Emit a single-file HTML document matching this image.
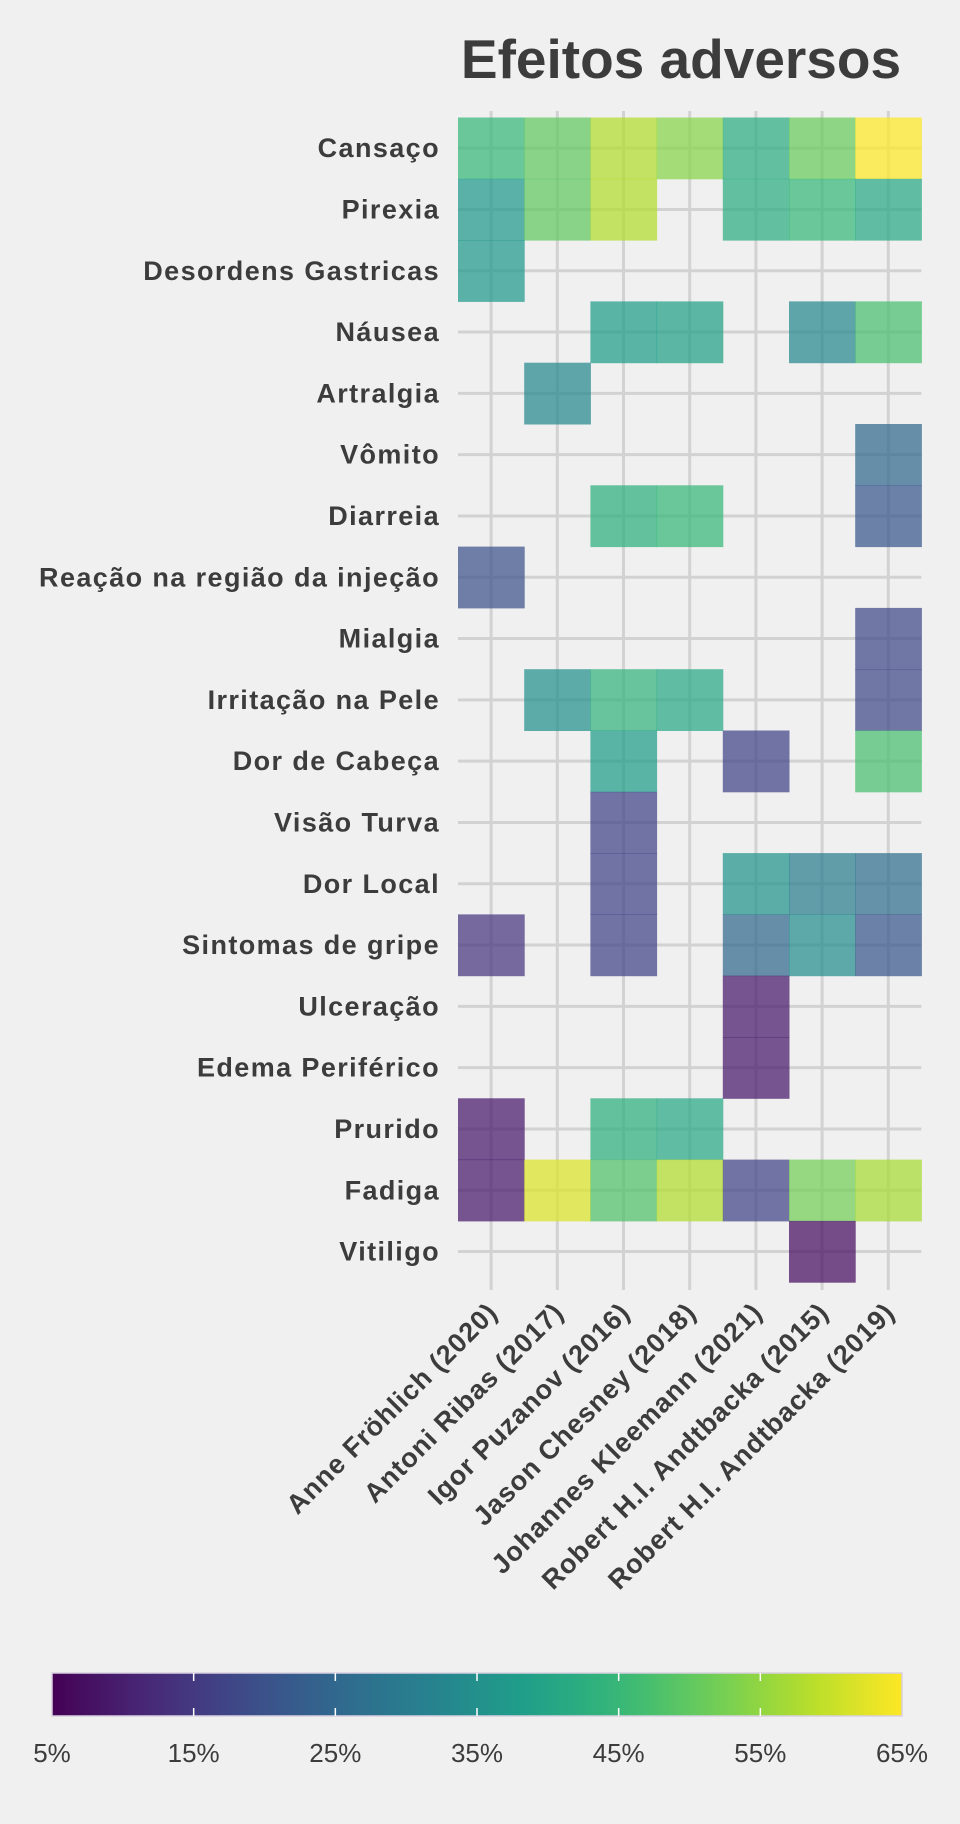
<!DOCTYPE html>
<html><head><meta charset="utf-8"><style>
html,body{margin:0;padding:0;background:#f0f0f0;}
svg{display:block;font-family:"Liberation Sans",sans-serif;}
</style></head><body>
<svg id="chart" width="960" height="1824" viewBox="0 0 960 1824" xmlns="http://www.w3.org/2000/svg">
<rect width="960" height="1824" fill="#f0f0f0"/>
<text x="681" y="78" text-anchor="middle" font-size="55" font-weight="bold" fill="#3c3c3c">Efeitos adversos</text>
<g id="grid"></g>
<g id="cells"></g>
<g id="ylabels"></g>
<g id="xlabels"></g>
<g id="colorbar"></g>
</svg>
<script>
const rows = ["Cansaço","Pirexia","Desordens Gastricas","Náusea","Artralgia","Vômito","Diarreia","Reação na região da injeção","Mialgia","Irritação na Pele","Dor de Cabeça","Visão Turva","Dor Local","Sintomas de gripe","Ulceração","Edema Periférico","Prurido","Fadiga","Vitiligo"];
const cols = ["Anne Fröhlich (2020)","Antoni Ribas (2017)","Igor Puzanov (2016)","Jason Chesney (2018)","Johannes Kleemann (2021)","Robert H.I. Andtbacka (2015)","Robert H.I. Andtbacka (2019)"];
const values = [
 [45,50,58,54,42,51,65],
 [37,50,58,null,42,45,41],
 [37,null,null,null,null,null,null],
 [null,null,38,39,null,33,47],
 [null,33,null,null,null,null,null],
 [null,null,null,null,null,null,25],
 [null,null,43,45,null,null,21],
 [20,null,null,null,null,null,null],
 [null,null,null,null,null,null,18],
 [null,35,44,41,null,null,18],
 [null,null,38,null,17,null,47],
 [null,null,17,null,null,null,null],
 [null,null,17,null,36,30,26],
 [14,null,17,null,25,34,21],
 [null,null,null,null,9,null,null],
 [null,null,null,null,9,null,null],
 [9,null,43,41,null,null,null],
 [9,62,48,58,17,52,57],
 [null,null,null,null,null,7,null]
];
const colorTicks = [5,15,25,35,45,55,65];
const tickLabels = ["5%","15%","25%","35%","45%","55%","65%"];

const NS="http://www.w3.org/2000/svg";
const X0=458, CW=66.2, Y0=117.5, RH=61.3;
const vmin=5, vmax=65;
const xPos=i=>X0+i*CW;
const yPos=j=>Y0+j*RH;
const vir=[[68,1,84],[72,40,120],[62,74,137],[49,104,142],[38,130,142],[31,158,137],[53,183,121],[110,206,88],[181,222,43],[253,231,37]];
function viridis(v){let t=Math.max(0,Math.min(1,(v-vmin)/(vmax-vmin)))*(vir.length-1);let i=Math.min(Math.floor(t),vir.length-2),f=t-i;const c=vir[i].map((a,k)=>Math.round(a+(vir[i+1][k]-a)*f));return `rgb(${c.join(',')})`;}
function mk(tag,attrs,parent){const e=document.createElementNS(NS,tag);for(const k in attrs)e.setAttribute(k,attrs[k]);parent.appendChild(e);return e;}

const grid=document.getElementById('grid');
cols.forEach((c,i)=>{const l=mk('line',{x1:xPos(i)+CW/2,x2:xPos(i)+CW/2,y1:111,y2:1290,stroke:'#d2d2d2','stroke-width':3},grid);

});
rows.forEach((r,j)=>{const l=mk('line',{x1:X0,x2:X0+7*CW,y1:yPos(j)+RH/2,y2:yPos(j)+RH/2,stroke:'#d2d2d2','stroke-width':3},grid);

});

const cells=document.getElementById('cells');
values.forEach((row,j)=>row.forEach((v,i)=>{if(v==null)return;
const r=mk('rect',{x:xPos(i),y:yPos(j),width:CW+0.5,height:RH+0.5,fill:viridis(v),'fill-opacity':0.72},cells);

}));

const yl=document.getElementById('ylabels');
rows.forEach((r,j)=>{const t=mk('text',{x:440,y:yPos(j)+RH/2+9,'text-anchor':'end','font-size':27,'font-weight':'bold','letter-spacing':1.4,fill:'#3c3c3c'},yl);t.textContent=r;

});

const xl=document.getElementById('xlabels');
cols.forEach((c,i)=>{const cx=xPos(i)+CW/2+8,cy=1314;const t=mk('text',{x:cx,y:cy,'text-anchor':'end','font-size':27,'font-weight':'bold','letter-spacing':0.9,fill:'#3c3c3c',transform:`rotate(-45 ${cx} ${cy})`},xl);t.textContent=c;

});

const cb=document.getElementById('colorbar');
const CBX0=52,CBX1=902,CBY=1673,CBH=43;
const defs=mk('defs',{},cb);const g=mk('linearGradient',{id:'vg',x1:0,x2:1,y1:0,y2:0},defs);
for(let k=0;k<=20;k++){mk('stop',{offset:k/20,'stop-color':viridis(vmin+(vmax-vmin)*k/20)},g);}
const bar=mk('rect',{x:CBX0,y:CBY,width:CBX1-CBX0,height:CBH,fill:'url(#vg)',stroke:'#d8d0e0','stroke-width':1.5},cb);


const cx=v=>CBX0+(v-vmin)/(vmax-vmin)*(CBX1-CBX0);
colorTicks.forEach((v,k)=>{
 if(k>0&&k<colorTicks.length-1){
  mk('line',{x1:cx(v),x2:cx(v),y1:CBY,y2:CBY+8,stroke:'#fff','stroke-width':1.5},cb);
  mk('line',{x1:cx(v),x2:cx(v),y1:CBY+CBH-8,y2:CBY+CBH,stroke:'#fff','stroke-width':1.5},cb);}
 const t=mk('text',{x:cx(v),y:1762,'text-anchor':'middle','font-size':26,fill:'#3c3c3c'},cb);t.textContent=tickLabels[k];
 
 });
</script>
</body></html>
